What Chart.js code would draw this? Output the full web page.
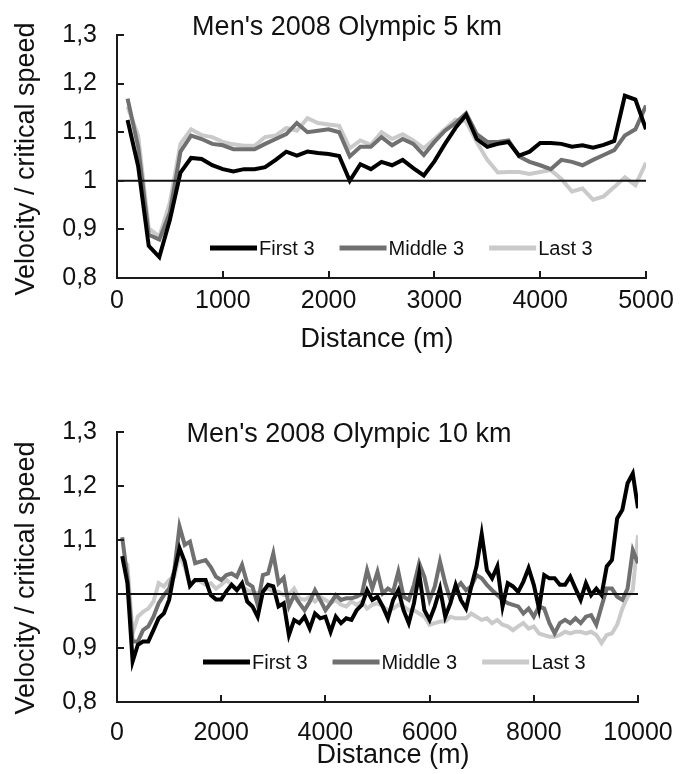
<!DOCTYPE html>
<html>
<head>
<meta charset="utf-8">
<script src="https://cdn.jsdelivr.net/npm/chart.js@4/dist/chart.umd.min.js"></script>
<style>
  html, body { margin: 0; padding: 0; background: #fff; }
  #wrap { position: relative; width: 691px; height: 774px; }
  canvas { position: absolute; left: 0; }
  #c5 { top: 0; }
  #c10 { top: 390px; }
</style>
</head>
<body>
<div id="wrap">
  <canvas id="c5" width="691" height="390"></canvas>
  <canvas id="c10" width="691" height="384"></canvas>
</div>
<script>
// Split distances (m)
const dist5k = [100,200,300,400,500,600,700,800,900,1000,1100,1200,1300,1400,1500,1600,1700,1800,1900,2000,
  2100,2200,2300,2400,2500,2600,2700,2800,2900,3000,3100,3200,3300,3400,3500,3600,3700,3800,3900,4000,
  4100,4200,4300,4400,4500,4600,4700,4800,4900,5000];

const dist10k = [100,200,300,400,500,600,700,800,900,1000,1100,1200,1300,1400,1500,1600,1700,1800,1900,2000,
  2100,2200,2300,2400,2500,2600,2700,2800,2900,3000,3100,3200,3300,3400,3500,3600,3700,3800,3900,4000,
  4100,4200,4300,4400,4500,4600,4700,4800,4900,5000,5100,5200,5300,5400,5500,5600,5700,5800,5900,6000,
  6100,6200,6300,6400,6500,6600,6700,6800,6900,7000,7100,7200,7300,7400,7500,7600,7700,7800,7900,8000,
  8100,8200,8300,8400,8500,8600,8700,8800,8900,9000,9100,9200,9300,9400,9500,9600,9700,9800,9900,10000];

// Velocity / critical speed, 5 km
const first5k = [1.125,1.030,0.866,0.843,0.920,1.017,1.047,1.045,1.032,1.024,1.019,1.024,1.024,1.028,1.043,1.060,1.052,1.060,1.057,1.055,
  1.051,1.000,1.034,1.024,1.039,1.032,1.043,1.026,1.011,1.040,1.076,1.109,1.136,1.086,1.070,1.076,1.080,1.052,1.060,1.078,
  1.078,1.076,1.070,1.073,1.068,1.074,1.082,1.175,1.167,1.106];
const middle5k = [1.169,1.070,0.889,0.879,0.935,1.060,1.093,1.086,1.076,1.073,1.065,1.065,1.065,1.076,1.086,1.096,1.119,1.100,1.103,1.106,
  1.100,1.050,1.070,1.070,1.090,1.073,1.086,1.076,1.053,1.080,1.103,1.119,1.139,1.096,1.080,1.080,1.083,1.050,1.039,1.032,
  1.024,1.043,1.039,1.032,1.043,1.053,1.063,1.093,1.106,1.155];
const last5k = [1.152,1.093,0.902,0.885,0.955,1.076,1.106,1.094,1.090,1.080,1.075,1.072,1.072,1.090,1.093,1.109,1.103,1.129,1.119,1.116,
  1.113,1.067,1.083,1.074,1.100,1.086,1.096,1.083,1.067,1.086,1.106,1.126,1.122,1.080,1.043,1.017,1.018,1.018,1.014,1.018,
  1.022,1.004,0.978,0.984,0.961,0.968,0.987,1.007,0.991,1.037];

// Velocity / critical speed, 10 km
const first10k = [1.070,1.020,0.875,0.906,0.912,0.912,0.933,0.955,0.964,0.989,1.041,1.085,1.060,1.015,1.026,1.026,1.026,0.998,0.990,0.990,
  1.005,1.017,1.007,1.020,0.986,0.977,0.958,1.004,1.017,1.014,0.977,0.983,0.924,0.952,0.946,0.958,0.936,0.964,0.955,0.958,
  0.930,0.958,0.946,0.955,0.952,0.970,0.980,1.007,0.989,0.995,0.977,0.955,0.989,1.007,0.970,0.946,0.983,1.038,0.970,0.952,
  0.977,1.010,0.958,0.983,1.017,0.989,0.973,1.014,1.051,1.111,1.044,1.029,1.051,0.977,1.020,1.014,1.004,1.023,1.048,1.017,
  0.973,1.035,1.029,1.029,1.017,1.017,1.032,1.010,0.989,1.020,0.998,1.010,0.998,1.051,1.063,1.140,1.156,1.205,1.223,1.159];
const middle10k = [1.105,1.030,0.912,0.912,0.933,0.940,0.958,0.983,0.998,1.010,1.044,1.125,1.091,1.097,1.057,1.060,1.063,1.050,1.032,1.026,
  1.035,1.038,1.032,1.054,1.020,1.014,0.980,1.035,1.038,1.075,1.020,1.030,0.977,0.998,0.983,0.970,0.986,1.007,0.989,0.970,
  0.983,0.998,0.989,0.992,0.992,0.995,1.000,1.044,1.010,1.041,1.001,1.010,1.004,1.041,0.995,0.989,1.017,1.057,1.032,0.989,
  1.014,1.060,1.020,0.989,1.010,1.020,1.007,1.014,1.035,1.029,1.017,1.007,0.998,0.989,0.983,0.980,0.977,0.964,0.973,0.958,
  0.977,0.973,0.946,0.927,0.946,0.952,0.946,0.955,0.946,0.958,0.961,0.943,0.977,1.010,1.010,0.995,0.989,1.010,1.081,1.057];
const last10k = [1.063,1.054,0.927,0.958,0.967,0.973,0.986,1.020,1.014,1.026,1.032,1.072,1.050,1.017,1.026,1.023,1.017,1.020,1.010,1.017,
  1.026,1.017,1.010,1.014,1.007,1.004,1.001,1.007,1.010,1.004,1.004,0.998,0.998,1.010,0.992,0.989,0.995,0.986,0.995,0.989,
  0.983,0.989,0.980,0.977,0.986,0.980,0.986,0.973,0.980,0.983,0.977,0.970,0.973,0.980,0.977,0.970,0.970,0.964,0.958,0.943,
  0.946,0.949,0.949,0.958,0.955,0.955,0.955,0.964,0.958,0.952,0.955,0.946,0.952,0.943,0.940,0.933,0.940,0.946,0.936,0.940,
  0.927,0.924,0.921,0.921,0.924,0.930,0.927,0.930,0.930,0.927,0.930,0.924,0.909,0.924,0.927,0.943,0.973,0.995,1.007,1.109];

const seriesNames = ['First 3', 'Middle 3', 'Last 3'];
const seriesColors = ['#000000', '#707070', '#cacaca'];

const xTicks5k = ['0', '1000', '2000', '3000', '4000', '5000'];
const xTicks10k = ['0', '2000', '4000', '6000', '8000', '10000'];
const yTickLabels = ['0,8', '0,9', '1', '1,1', '1,2', '1,3'];
const refLevel = 1;

const FONT = '"Liberation Sans", Arial, Helvetica, sans-serif';

function toPoints(xs, ys) {
  return xs.map((x, i) => ({ x: x, y: ys[i] }));
}

// Titles, legend, reference line and inward tick marks
const decorPlugin = {
  id: 'decor',
  afterDatasetsDraw(chart, args, opts) {
    const { ctx, chartArea, scales } = chart;
    const xs = scales.x, ys = scales.y;
    ctx.save();

    // reference line at critical speed
    const yRef = ys.getPixelForValue(refLevel);
    ctx.strokeStyle = '#111';
    ctx.lineWidth = 2;
    ctx.beginPath();
    ctx.moveTo(chartArea.left, yRef);
    ctx.lineTo(chartArea.right, yRef);
    ctx.stroke();

    // inward ticks
    ctx.strokeStyle = '#1a1a1a';
    ctx.lineWidth = 2;
    xs.ticks.forEach(t => {
      if (t.value === xs.min) return;
      const px = Math.round(xs.getPixelForValue(t.value));
      ctx.beginPath();
      ctx.moveTo(px, chartArea.bottom);
      ctx.lineTo(px, chartArea.bottom - 7);
      ctx.stroke();
    });
    ys.ticks.forEach(t => {
      const py = Math.round(ys.getPixelForValue(t.value));
      ctx.beginPath();
      ctx.moveTo(chartArea.left, py);
      ctx.lineTo(chartArea.left + 7, py);
      ctx.stroke();
    });

    // chart title
    ctx.fillStyle = '#111';
    ctx.textAlign = 'center';
    ctx.textBaseline = 'middle';
    ctx.font = '27px ' + FONT;
    ctx.fillText(opts.title, opts.titleX, opts.titleY);

    // axis titles
    ctx.font = '27px ' + FONT;
    ctx.fillText(opts.xTitle, opts.xTitleX, opts.xTitleY);
    ctx.save();
    ctx.translate(opts.yTitleX, opts.yTitleY);
    ctx.rotate(-Math.PI / 2);
    ctx.fillText(opts.yTitle, 0, 0);
    ctx.restore();

    // legend
    ctx.font = '20px ' + FONT;
    ctx.textAlign = 'left';
    let lx = opts.legendX;
    const ly = opts.legendY;
    chart.data.datasets.forEach(ds => {
      ctx.strokeStyle = ds.borderColor;
      ctx.lineWidth = 5;
      ctx.beginPath();
      ctx.moveTo(lx, ly);
      ctx.lineTo(lx + 47, ly);
      ctx.stroke();
      lx += 49;
      ctx.fillStyle = '#111';
      ctx.fillText(ds.label, lx, ly + 1);
      lx += ctx.measureText(ds.label).width + 25;
    });

    ctx.restore();
  }
};

function makeChart(id, xs, series, xMax, xStep, xLabels, cfg) {
  const datasets = series.map((s, i) => ({
    label: seriesNames[i],
    data: toPoints(xs, s),
    borderColor: seriesColors[i],
    borderWidth: 4,
    pointRadius: 0,
    tension: 0,
    fill: false
  }));
  return new Chart(document.getElementById(id), {
    type: 'line',
    data: { datasets },
    plugins: [decorPlugin],
    options: {
      responsive: false,
      animation: false,
      layout: { padding: { top: cfg.padTop, right: cfg.padRight, left: 0, bottom: 0 } },
      plugins: {
        legend: { display: false },
        tooltip: { enabled: false },
        decor: cfg.decor
      },
      scales: {
        x: {
          type: 'linear',
          min: 0,
          max: xMax,
          afterFit: s => { s.height = cfg.xHeight; },
          ticks: {
            stepSize: xStep,
            color: '#111',
            font: { family: FONT, size: 25 },
            padding: cfg.xTickPad,
            maxRotation: 0,
            autoSkip: false,
            callback: (v, i) => xLabels[i]
          },
          grid: { display: true, drawOnChartArea: false, drawTicks: false },
          border: { display: true, color: '#1a1a1a', width: 2 }
        },
        y: {
          type: 'linear',
          min: 0.8,
          max: 1.3,
          afterFit: s => { s.width = 117; },
          ticks: {
            stepSize: 0.1,
            color: '#111',
            font: { family: FONT, size: 25 },
            padding: 20,
            callback: (v, i) => yTickLabels[i]
          },
          grid: { display: true, drawOnChartArea: false, drawTicks: false },
          border: { display: true, color: '#1a1a1a', width: 2 }
        }
      }
    }
  });
}

makeChart('c5', dist5k, [first5k, middle5k, last5k], 5000, 1000, xTicks5k, {
  padTop: 25, padRight: 45, xHeight: 112, xTickPad: 8,
  decor: {
    title: "Men's 2008 Olympic 5 km", titleX: 347, titleY: 28,
    xTitle: 'Distance (m)', xTitleX: 377, xTitleY: 340,
    yTitle: 'Velocity / critical speed', yTitleX: 27, yTitleY: 159,
    legendX: 210, legendY: 248
  }
});

makeChart('c10', dist10k, [first10k, middle10k, last10k], 10000, 2000, xTicks10k, {
  padTop: 42, padRight: 53, xHeight: 72, xTickPad: 16,
  decor: {
    title: "Men's 2008 Olympic 10 km", titleX: 349, titleY: 45,
    xTitle: 'Distance (m)', xTitleX: 393, xTitleY: 366,
    yTitle: 'Velocity / critical speed', yTitleX: 27, yTitleY: 188,
    legendX: 203, legendY: 272
  }
});
</script>
</body>
</html>
